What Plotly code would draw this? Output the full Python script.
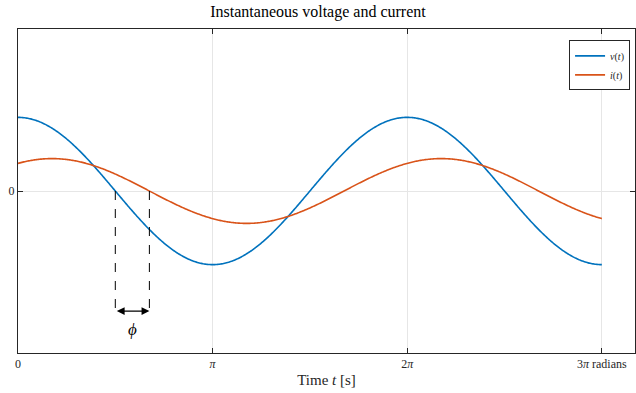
import numpy as np
import plotly.graph_objects as go

# Signal parameters
v_amp = 1.0
i_amp = 0.44
phi = 0.55            # phase lag of the current [rad]
t_end = 3 * np.pi

tick_vals = [0, np.pi, 2 * np.pi, 3 * np.pi]
tick_text = ["0", "<i>π</i>", "2<i>π</i>", "3<i>π</i> radians"]

arrow_y = -1.63
phi_label_y = -1.88

t = np.linspace(0, t_end, 600)
v = v_amp * np.cos(t)
i = i_amp * np.cos(t - phi)

blue = "#0072BD"
orange = "#D95319"
font_family = "Liberation Serif, DejaVu Serif, serif"

fig = go.Figure()
fig.add_trace(go.Scatter(x=t, y=v, mode="lines",
                         line=dict(color=blue, width=1.6, simplify=False),
                         name="<i>v</i>(<i>t</i>)"))
fig.add_trace(go.Scatter(x=t, y=i, mode="lines",
                         line=dict(color=orange, width=1.6, simplify=False),
                         name="<i>i</i>(<i>t</i>)"))

# Zero crossings of v and i, marked with dashed drop lines
x0 = np.pi / 2
x1 = np.pi / 2 + phi
for xx in (x0, x1):
    fig.add_shape(type="line", x0=xx, x1=xx, y0=0, y1=arrow_y, xref="x", yref="y",
                  line=dict(color="black", width=1, dash="dash"))

# Double-headed arrow spanning the phase shift
fig.add_annotation(x=x1, y=arrow_y, ax=x0, ay=arrow_y, xref="x", yref="y",
                   axref="x", ayref="y", showarrow=True, arrowhead=2,
                   arrowside="end+start", arrowsize=1.3, arrowwidth=1.2,
                   arrowcolor="black", text="")
fig.add_annotation(x=(x0 + x1) / 2, y=phi_label_y, xref="x", yref="y",
                   text="<i>ϕ</i>", showarrow=False,
                   font=dict(size=17, family=font_family, color="black"))

axis_common = dict(showline=True, mirror="ticks", linecolor="#262626", linewidth=1,
                   ticks="inside", ticklen=5, tickcolor="#262626",
                   showgrid=True, gridcolor="#e6e6e6", gridwidth=1, zeroline=False,
                   tickfont=dict(family=font_family, size=12, color="#262626"))

fig.update_xaxes(range=[0, 9.96], tickvals=tick_vals, ticktext=tick_text,
                 title=dict(text="Time <i>t</i> [s]", standoff=4,
                            font=dict(family=font_family, size=15, color="#262626")),
                 **axis_common)
fig.update_yaxes(range=[-2.2, 2.2], tickvals=[0], ticktext=["0"], **axis_common)

fig.update_layout(
    width=636, height=393,
    margin=dict(l=18, r=1, t=29, b=40),
    paper_bgcolor="white", plot_bgcolor="white",
    title=dict(text="Instantaneous voltage and current", x=0.5, xanchor="center",
               y=0.985, yanchor="top",
               font=dict(family=font_family, size=16, color="black")),
    legend=dict(x=0.992, y=0.965, xanchor="right", yanchor="top",
                bgcolor="white", bordercolor="#262626", borderwidth=1,
                font=dict(family=font_family, size=10, color="#262626"),
                itemwidth=30, tracegroupgap=0),
    showlegend=True,
)

fig.write_html("out.html")
